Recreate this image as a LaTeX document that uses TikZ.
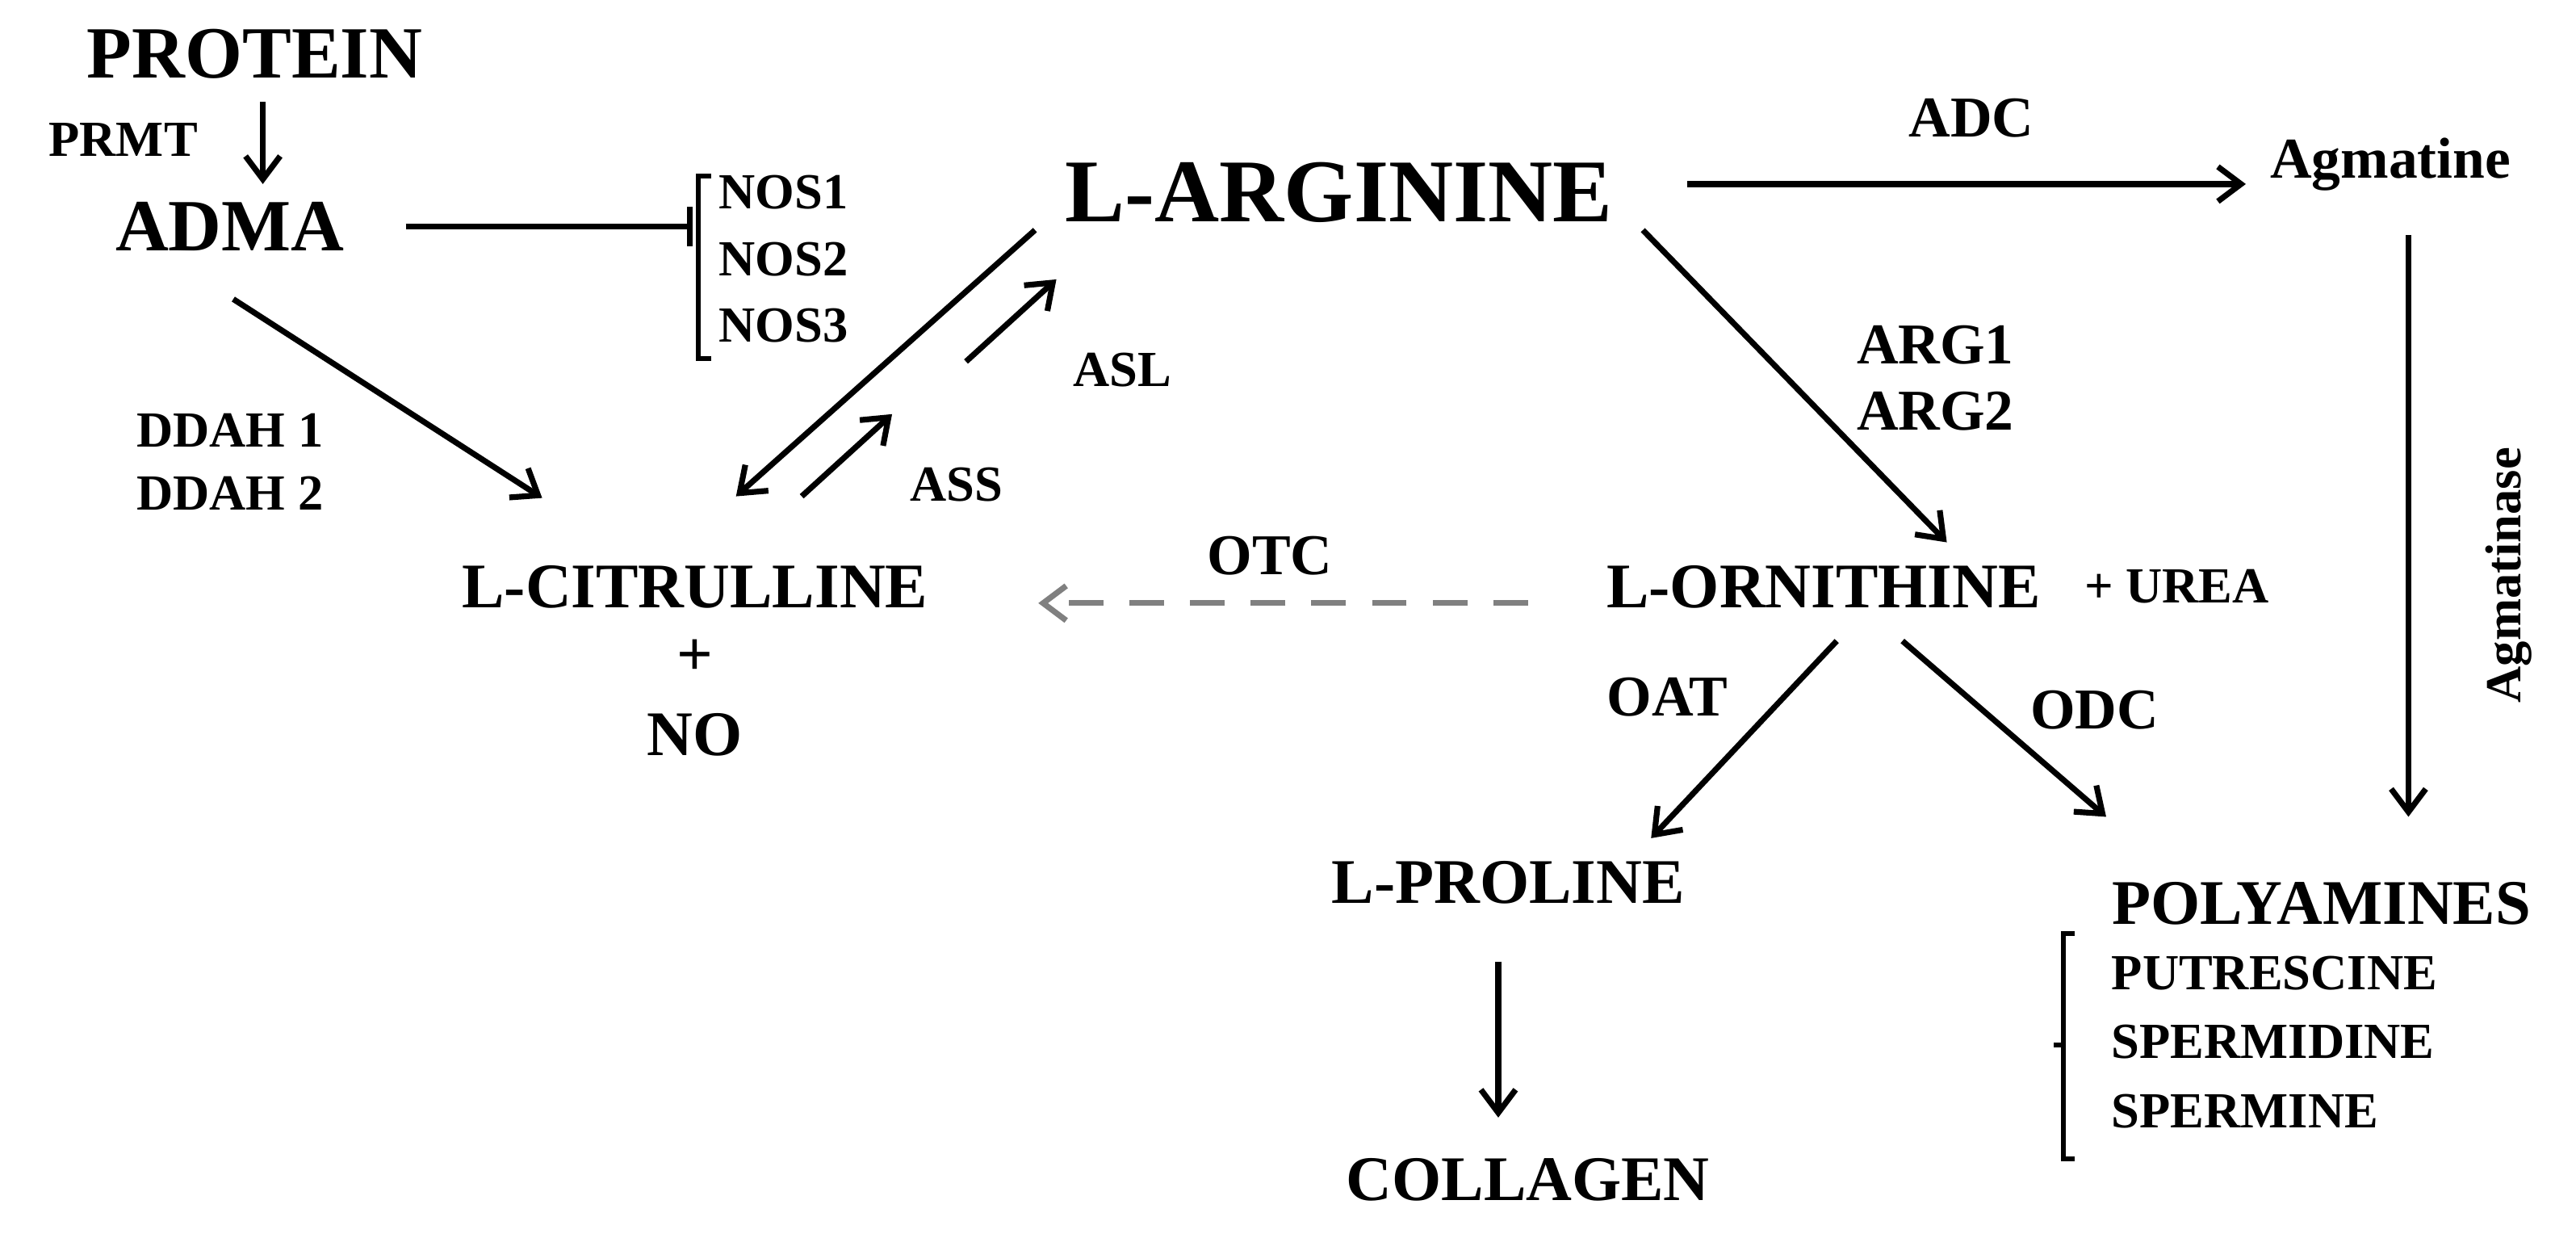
\documentclass[tikz,border=0pt]{standalone}
\usepackage{fontspec}
\setmainfont{Liberation Serif}
\usetikzlibrary{arrows.meta}
\begin{document}
\begin{tikzpicture}[x=0.02cm,y=-0.02cm,
  lbl/.style={font=\bfseries\fontsize{17.5}{20}\selectfont,inner sep=0pt},
  mid/.style={font=\bfseries\fontsize{22}{26}\selectfont,inner sep=0pt},
  big/.style={font=\bfseries\fontsize{25.5}{30}\selectfont,inner sep=0pt},
  arrs/.style={-{Straight Barb[length=8pt,width=12pt]},line width=2pt}]
\useasboundingbox (0,0) rectangle (1568,753);
\node[big] (protein) at (155,33) {PROTEIN};
\node[lbl] (prmt) at (75,85) {PRMT};
\node[big] (adma) at (140,138) {ADMA};
\node[font=\bfseries\fontsize{31}{36}\selectfont,inner sep=0pt] (arg) at (815,117) {L-ARGININE};
\node[lbl] (nos1) at (477,117) {NOS1};
\node[lbl] (nos2) at (477,158) {NOS2};
\node[lbl] (nos3) at (477,198) {NOS3};
\node[lbl] (ddah1) at (140,262) {DDAH 1};
\node[lbl] (ddah2) at (140,300) {DDAH 2};
\node[lbl] (asl) at (683,225) {ASL};
\node[lbl] (ass) at (582,295) {ASS};
\node[mid] (cit) at (423,357) {L-CITRULLINE};
\node[mid] (plus) at (423,400) {+};
\node[mid] (no) at (423,447) {NO};
\node[lbl,font=\bfseries\fontsize{20}{24}\selectfont] (otc) at (773,338) {OTC};
\node[mid] (orn) at (1110,357) {L-ORNITHINE};
\node[lbl] (urea) at (1325,357) {+ UREA};
\node[lbl,font=\bfseries\fontsize{20}{24}\selectfont] (adc) at (1200,72) {ADC};
\node[lbl,font=\bfseries\fontsize{20}{24}\selectfont] (agm) at (1455,100) {Agmatine};
\node[lbl,font=\bfseries\fontsize{20}{24}\selectfont] (arg1) at (1178,210) {ARG1};
\node[lbl,font=\bfseries\fontsize{20}{24}\selectfont] (arg2) at (1178,250) {ARG2};
\node[lbl,rotate=90] (agmase) at (1527,350) {Agmatinase};
\node[lbl,font=\bfseries\fontsize{20}{24}\selectfont] (oat) at (1015,424) {OAT};
\node[lbl,font=\bfseries\fontsize{20}{24}\selectfont] (odc) at (1275,432) {ODC};
\node[mid] (pro) at (918,537) {L-PROLINE};
\node[mid] (col) at (930,718) {COLLAGEN};
\node[mid] (poly) at (1413,550) {POLYAMINES};
\node[lbl,anchor=west] (put) at (1285,592) {PUTRESCINE};
\node[lbl,anchor=west] (spd) at (1285,634) {SPERMIDINE};
\node[lbl,anchor=west] (spm) at (1285,676) {SPERMINE};

\coordinate (a1) at (160,62); \coordinate (a2) at (160,112);
\draw[arrs] (a1) -- (a2);
\coordinate (i1) at (247,138); \coordinate (i2) at (420,138);
\draw[line width=2pt] (i1) -- (i2) (420,126) -- (420,150);
\draw[line width=1.6pt] (433,107) -- (425,107) -- (425,218) -- (433,218);
\coordinate (b1) at (142,182); \coordinate (b2) at (330,303);
\draw[arrs] (b1) -- (b2);
\coordinate (c1) at (630,140); \coordinate (c2) at (448,302);
\draw[arrs] (c1) -- (c2);
\coordinate (d1) at (488,302); \coordinate (d2) at (543,252);
\draw[arrs] (d1) -- (d2);
\coordinate (e1) at (588,220); \coordinate (e2) at (643,170);
\draw[arrs] (e1) -- (e2);
\coordinate (f1) at (930,367); \coordinate (f2) at (632,367);
\draw[arrs,gray,dash pattern=on 12pt off 9pt] (f1) -- (f2);
\coordinate (g1) at (1027,112); \coordinate (g2) at (1367,112);
\draw[arrs] (g1) -- (g2);
\coordinate (h1) at (1000,140); \coordinate (h2) at (1185,330);
\draw[arrs] (h1) -- (h2);
\coordinate (j1) at (1466,143); \coordinate (j2) at (1466,497);
\draw[arrs] (j1) -- (j2);
\coordinate (k1) at (1118,390); \coordinate (k2) at (1005,510);
\draw[arrs] (k1) -- (k2);
\coordinate (l1) at (1158,390); \coordinate (l2) at (1282,497);
\draw[arrs] (l1) -- (l2);
\coordinate (m1) at (912,585); \coordinate (m2) at (912,680);
\draw[arrs] (m1) -- (m2);
\draw[line width=1.6pt] (1263,568) -- (1256,568) -- (1256,705) -- (1263,705) (1256,636) -- (1250,636);
\end{tikzpicture}
\end{document}
